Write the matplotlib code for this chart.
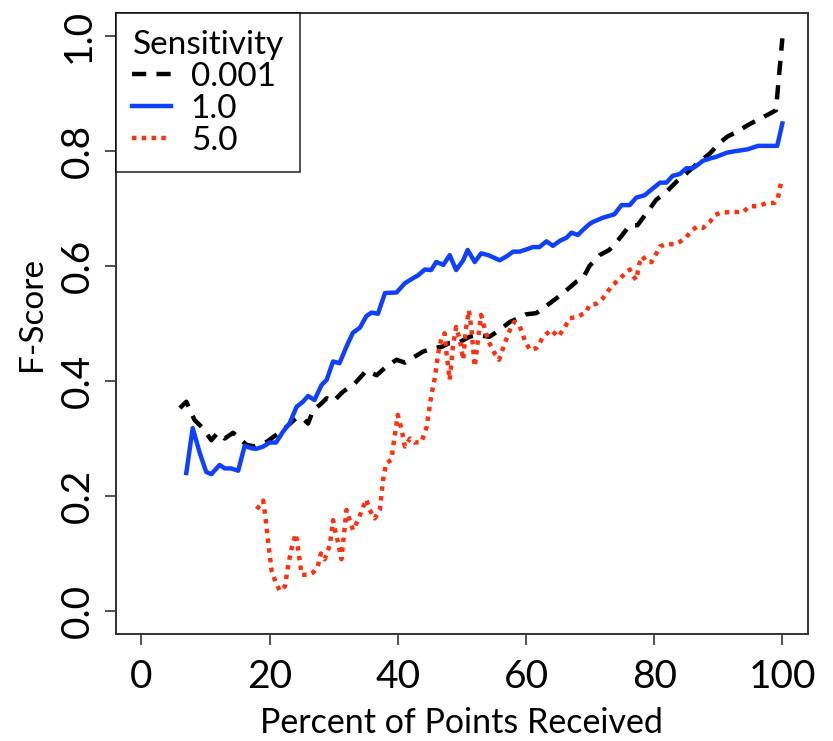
import matplotlib
matplotlib.use('Agg')
import matplotlib.pyplot as plt

plt.rcParams['font.family'] = ['Lato', 'DejaVu Sans']

# Sensitivity 0.001 (black dashed)
x_001 = [6, 7, 8.3, 9.6, 10.9, 11.9, 13, 14.3, 15, 16.4, 17.7, 19.5, 21, 22.4, 24.2,
         25.2, 26, 26.8, 27.8, 28.9, 29.9, 31.4, 33.3, 35.1, 36.7, 38.2, 39.8, 41.1,
         42.3, 43.9, 45.5, 47, 48, 49.7, 51.2, 52.3, 54.3, 55.9, 57.5, 59, 60, 61.6,
         63.7, 65.8, 67.9, 68.9, 69.9, 71.5, 73, 74.6, 76.2, 77.4, 78.8, 80.3, 81.9,
         83.5, 85, 86.8, 88.7, 90.2, 91.4, 93, 94.6, 96.1, 97.7, 99, 100]
y_001 = [0.353, 0.364, 0.332, 0.318, 0.297, 0.31, 0.30, 0.31, 0.303, 0.289, 0.286,
         0.294, 0.306, 0.318, 0.336, 0.335, 0.326, 0.35, 0.358, 0.37, 0.364, 0.381,
         0.396, 0.418, 0.41, 0.425, 0.437, 0.432, 0.44, 0.451, 0.457, 0.46, 0.466,
         0.468, 0.477, 0.48, 0.477, 0.489, 0.503, 0.51, 0.516, 0.518, 0.535, 0.553,
         0.573, 0.579, 0.600, 0.619, 0.628, 0.648, 0.671, 0.671, 0.692, 0.715, 0.729,
         0.747, 0.761, 0.779, 0.796, 0.814, 0.825, 0.834, 0.845, 0.854, 0.863, 0.871,
         0.996]

# Sensitivity 1.0 (blue solid)
x_1 = [7, 8, 9.1, 10.1, 10.9, 12.2, 13, 14, 15.1, 16.1, 17.2, 17.9, 19, 20, 21, 22.1,
       23.1, 24.2, 25.2, 26, 27, 28.1, 28.9, 29.9, 30.9, 32, 33, 34.1, 35.1, 35.9,
       36.9, 38, 39.8, 41.1, 42.4, 43.2, 44.2, 45.2, 46, 47.1, 48.1, 49.1, 50.2, 50.9,
       52, 53, 54.1, 55.9, 57, 58, 59, 60.1, 61.1, 62.1, 63.2, 64.2, 65.3, 66.3, 67.1,
       68.1, 68.9, 69.9, 70.5, 72, 73.8, 74.9, 76.2, 77.2, 78.5, 79.8, 80.9, 81.9,
       82.9, 84, 85, 86, 86.8, 87.6, 88.7, 89.7, 91.3, 92.8, 94.6, 96.2, 97.8, 99.2,
       100]
y_1 = [0.24, 0.318, 0.275, 0.242, 0.238, 0.254, 0.248, 0.248, 0.244, 0.287, 0.283,
       0.282, 0.286, 0.293, 0.293, 0.312, 0.326, 0.355, 0.364, 0.374, 0.367, 0.393,
       0.402, 0.434, 0.431, 0.46, 0.484, 0.493, 0.513, 0.519, 0.517, 0.553, 0.554,
       0.57, 0.579, 0.584, 0.594, 0.593, 0.607, 0.602, 0.619, 0.593, 0.61, 0.628,
       0.607, 0.622, 0.619, 0.61, 0.617, 0.625, 0.625, 0.629, 0.633, 0.633, 0.643,
       0.635, 0.644, 0.649, 0.658, 0.654, 0.663, 0.673, 0.677, 0.684, 0.69, 0.706,
       0.706, 0.719, 0.723, 0.735, 0.745, 0.745, 0.757, 0.76, 0.77, 0.77, 0.776,
       0.783, 0.787, 0.79, 0.797, 0.8, 0.803, 0.809, 0.809, 0.809, 0.848]

# Sensitivity 5.0 (red dotted)
x_5 = [18, 19, 19.4, 19.8, 20.3, 21, 21.6, 22.4, 22.9, 23.6, 24.1, 24.4, 25, 26, 26.8,
       27.5, 28, 28.6, 29.4, 29.9, 30.2, 30.7, 31.2, 32, 32.5, 33, 33.8, 34.6, 35.1,
       35.6, 36.4, 37.2, 37.7, 38.2, 39, 39.5, 40, 40.6, 41.1, 41.9, 42.6, 43.7, 44.5,
       45.2, 45.8, 46.3, 46.8, 47.3, 47.6, 48.1, 48.6, 49.1, 49.7, 50.2, 50.6, 51.1,
       51.5, 52, 52.5, 53, 53.6, 54.3, 55.1, 55.8, 56.7, 57.5, 58.2, 59, 59.8, 60.6,
       61.6, 62.7, 63.9, 65, 66, 66.8, 68.1, 69.4, 69.9, 70.9, 72, 73.3, 74.4, 75.4,
       76.2, 76.7, 77.2, 77.7, 78.2, 78.8, 79.6, 80.3, 80.9, 81.9, 83.2, 84, 85, 85.8,
       86.6, 87.6, 88.7, 89.5, 90.5, 92.3, 93.9, 94.9, 96, 97.5, 98.8, 99.3, 99.8]
y_5 = [0.177, 0.192, 0.158, 0.118, 0.071, 0.048, 0.035, 0.043, 0.08, 0.118, 0.134,
       0.112, 0.063, 0.063, 0.067, 0.077, 0.10, 0.09, 0.115, 0.158, 0.141, 0.118, 0.09,
       0.176, 0.158, 0.141, 0.158, 0.181, 0.194, 0.176, 0.161, 0.176, 0.228, 0.257,
       0.263, 0.303, 0.341, 0.315, 0.286, 0.3, 0.293, 0.294, 0.32, 0.373, 0.407, 0.448,
       0.474, 0.483, 0.448, 0.402, 0.46, 0.494, 0.471, 0.437, 0.489, 0.523, 0.489,
       0.425, 0.471, 0.515, 0.489, 0.466, 0.448, 0.437, 0.466, 0.489, 0.503, 0.496,
       0.471, 0.454, 0.457, 0.477, 0.489, 0.477, 0.492, 0.509, 0.512, 0.52, 0.532,
       0.534, 0.544, 0.564, 0.576, 0.586, 0.594, 0.583, 0.576, 0.605, 0.617, 0.607,
       0.607, 0.621, 0.634, 0.638, 0.638, 0.642, 0.65, 0.661, 0.668, 0.666, 0.677,
       0.689, 0.693, 0.694, 0.694, 0.704, 0.704, 0.709, 0.71, 0.718, 0.745]

x_ticks = [0, 20, 40, 60, 80, 100]
y_ticks = [0.0, 0.2, 0.4, 0.6, 0.8, 1.0]

fig = plt.figure(figsize=(8.33, 7.41), dpi=100)
ax = fig.add_axes([0.139, 0.1444, 0.831, 0.838])

ax.plot(x_001, y_001, color='black', lw=3.2, linestyle=(0, (3.2, 2.3)), label='0.001')
ax.plot(x_1, y_1, color='#1040ff', lw=3.2, label='1.0')
ax.plot(x_5, y_5, color='#ff3010', lw=3.2, linestyle=(0, (1.0, 1.2)),
        dash_capstyle='butt', label='5.0')

ax.set_xlim(-4, 104)
ax.set_ylim(-0.04, 1.04)
ax.set_xticks(x_ticks)
ax.set_xticklabels([str(t) for t in x_ticks])
ax.set_yticks(y_ticks)
ax.set_yticklabels(['%.1f' % t for t in y_ticks], rotation=90, va='center')

ax.tick_params(axis='both', direction='out', length=8, width=1.2, colors='#333333',
               labelcolor='black', labelsize=28)
ax.tick_params(axis='x', pad=10)
ax.tick_params(axis='y', pad=6)
for s in ax.spines.values():
    s.set_linewidth(1.4)
    s.set_color('#333333')

ax.set_xlabel('Percent of Points Received', fontsize=24.5, labelpad=9)
ax.set_ylabel('F-Score', fontsize=24)
ax.yaxis.set_label_coords(-0.1, 0.515)

leg = ax.legend(title='Sensitivity', loc='upper left', bbox_to_anchor=(0, 1),
                borderaxespad=0, fancybox=False, edgecolor='black', fontsize=24,
                title_fontsize=24, handlelength=1.15, handletextpad=0.6,
                labelspacing=0.06, borderpad=0.5, alignment='left')
leg.get_frame().set_linewidth(1.2)

fig.savefig('out.png', dpi=100)
